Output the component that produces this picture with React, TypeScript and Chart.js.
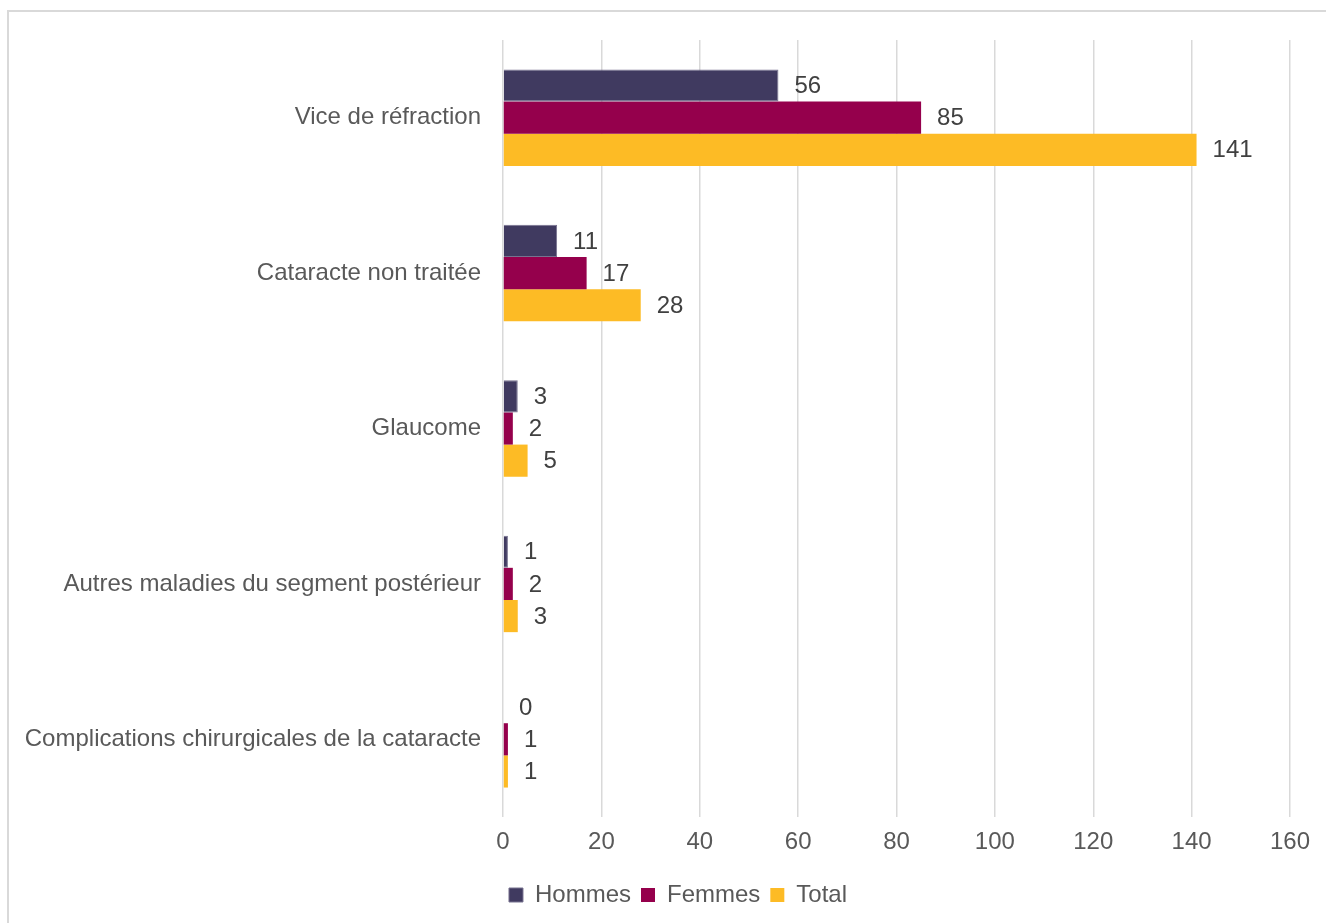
import React, { useEffect, useRef } from "react";
import { Chart, registerables } from "chart.js";

Chart.register(...registerables);

const categories = [
  "Vice de réfraction",
  "Cataracte non traitée",
  "Glaucome",
  "Autres maladies du segment postérieur",
  "Complications chirurgicales de la cataracte",
];
const hommes = [56, 11, 3, 1, 0];
const femmes = [85, 17, 2, 2, 1];
const total = [141, 28, 5, 3, 1];
const xTicks = [0, 20, 40, 60, 80, 100, 120, 140, 160];

const FONT = "'Liberation Sans', Arial, sans-serif";

const dataLabels = {
  id: "dataLabels",
  afterDatasetsDraw(chart: any) {
    const ctx = chart.ctx;
    ctx.save();
    ctx.font = `24px ${FONT}`;
    ctx.fillStyle = "#404040";
    ctx.textAlign = "left";
    ctx.textBaseline = "middle";
    chart.data.datasets.forEach((ds: any, i: number) => {
      const meta = chart.getDatasetMeta(i);
      meta.data.forEach((bar: any, j: number) => {
        ctx.fillText(String(ds.data[j]), bar.x + 16, bar.y + 1);
      });
    });
    ctx.restore();
  },
};

// centre the legend under the span the reference uses (not the whole canvas)
const legendShift = {
  id: "legendShift",
  afterLayout(chart: any) {
    const lg = chart.legend;
    if (!lg) return;
    lg.left = 66;
    lg.right = 1290;
    lg.adjustHitBoxes && lg.adjustHitBoxes();
  },
};

export default function App() {
  const ref = useRef<HTMLCanvasElement>(null);
  useEffect(() => {
    if (!ref.current) return;
    const chart = new Chart(ref.current, {
      type: "bar",
      data: {
        labels: categories,
        datasets: [
          { label: "Hommes", data: hommes, backgroundColor: "#403a60", borderColor: "#77728f", borderWidth: 1 },
          { label: "Femmes", data: femmes, backgroundColor: "#95004c" },
          { label: "Total", data: total, backgroundColor: "#fdbb25" },
        ],
      },
      options: {
        indexAxis: "y",
        responsive: false,
        animation: false,
        layout: { padding: { top: 40, right: 36, left: 0, bottom: 6 } },
        datasets: { bar: { categoryPercentage: 0.621, barPercentage: 1 } },
        scales: {
          x: {
            min: 0,
            max: 160,
            afterBuildTicks: (s: any) => {
              s.ticks = xTicks.map((v) => ({ value: v }));
            },
            afterFit: (s: any) => {
              s.height = 56;
            },
            grid: { color: "#d9d9d9", lineWidth: 1.5, drawTicks: false },
            border: { display: false },
            ticks: { padding: 11, color: "#595959", font: { family: FONT, size: 24 } },
          },
          y: {
            afterFit: (s: any) => {
              s.width = 503;
            },
            grid: { display: false, drawTicks: false },
            border: { display: false },
            ticks: { padding: 22, color: "#595959", font: { family: FONT, size: 24 } },
          },
        },
        plugins: {
          legend: {
            position: "bottom",
            labels: {
              boxWidth: 14,
              boxHeight: 14,
              padding: 10,
              color: "#595959",
              font: { family: FONT, size: 24 },
            },
          },
          tooltip: { enabled: false },
        },
      },
      plugins: [dataLabels, legendShift],
    });
    return () => chart.destroy();
  }, []);
  return (
    <>
      <div
        style={{
          position: "fixed",
          left: 7,
          top: 10,
          width: 2000,
          height: 2000,
          border: "2px solid #d9d9d9",
        }}
      />
      <canvas
        ref={ref}
        width={1326}
        height={923}
        style={{ position: "fixed", left: 0, top: 0, width: 1326, height: 923 }}
      />
    </>
  );
}
